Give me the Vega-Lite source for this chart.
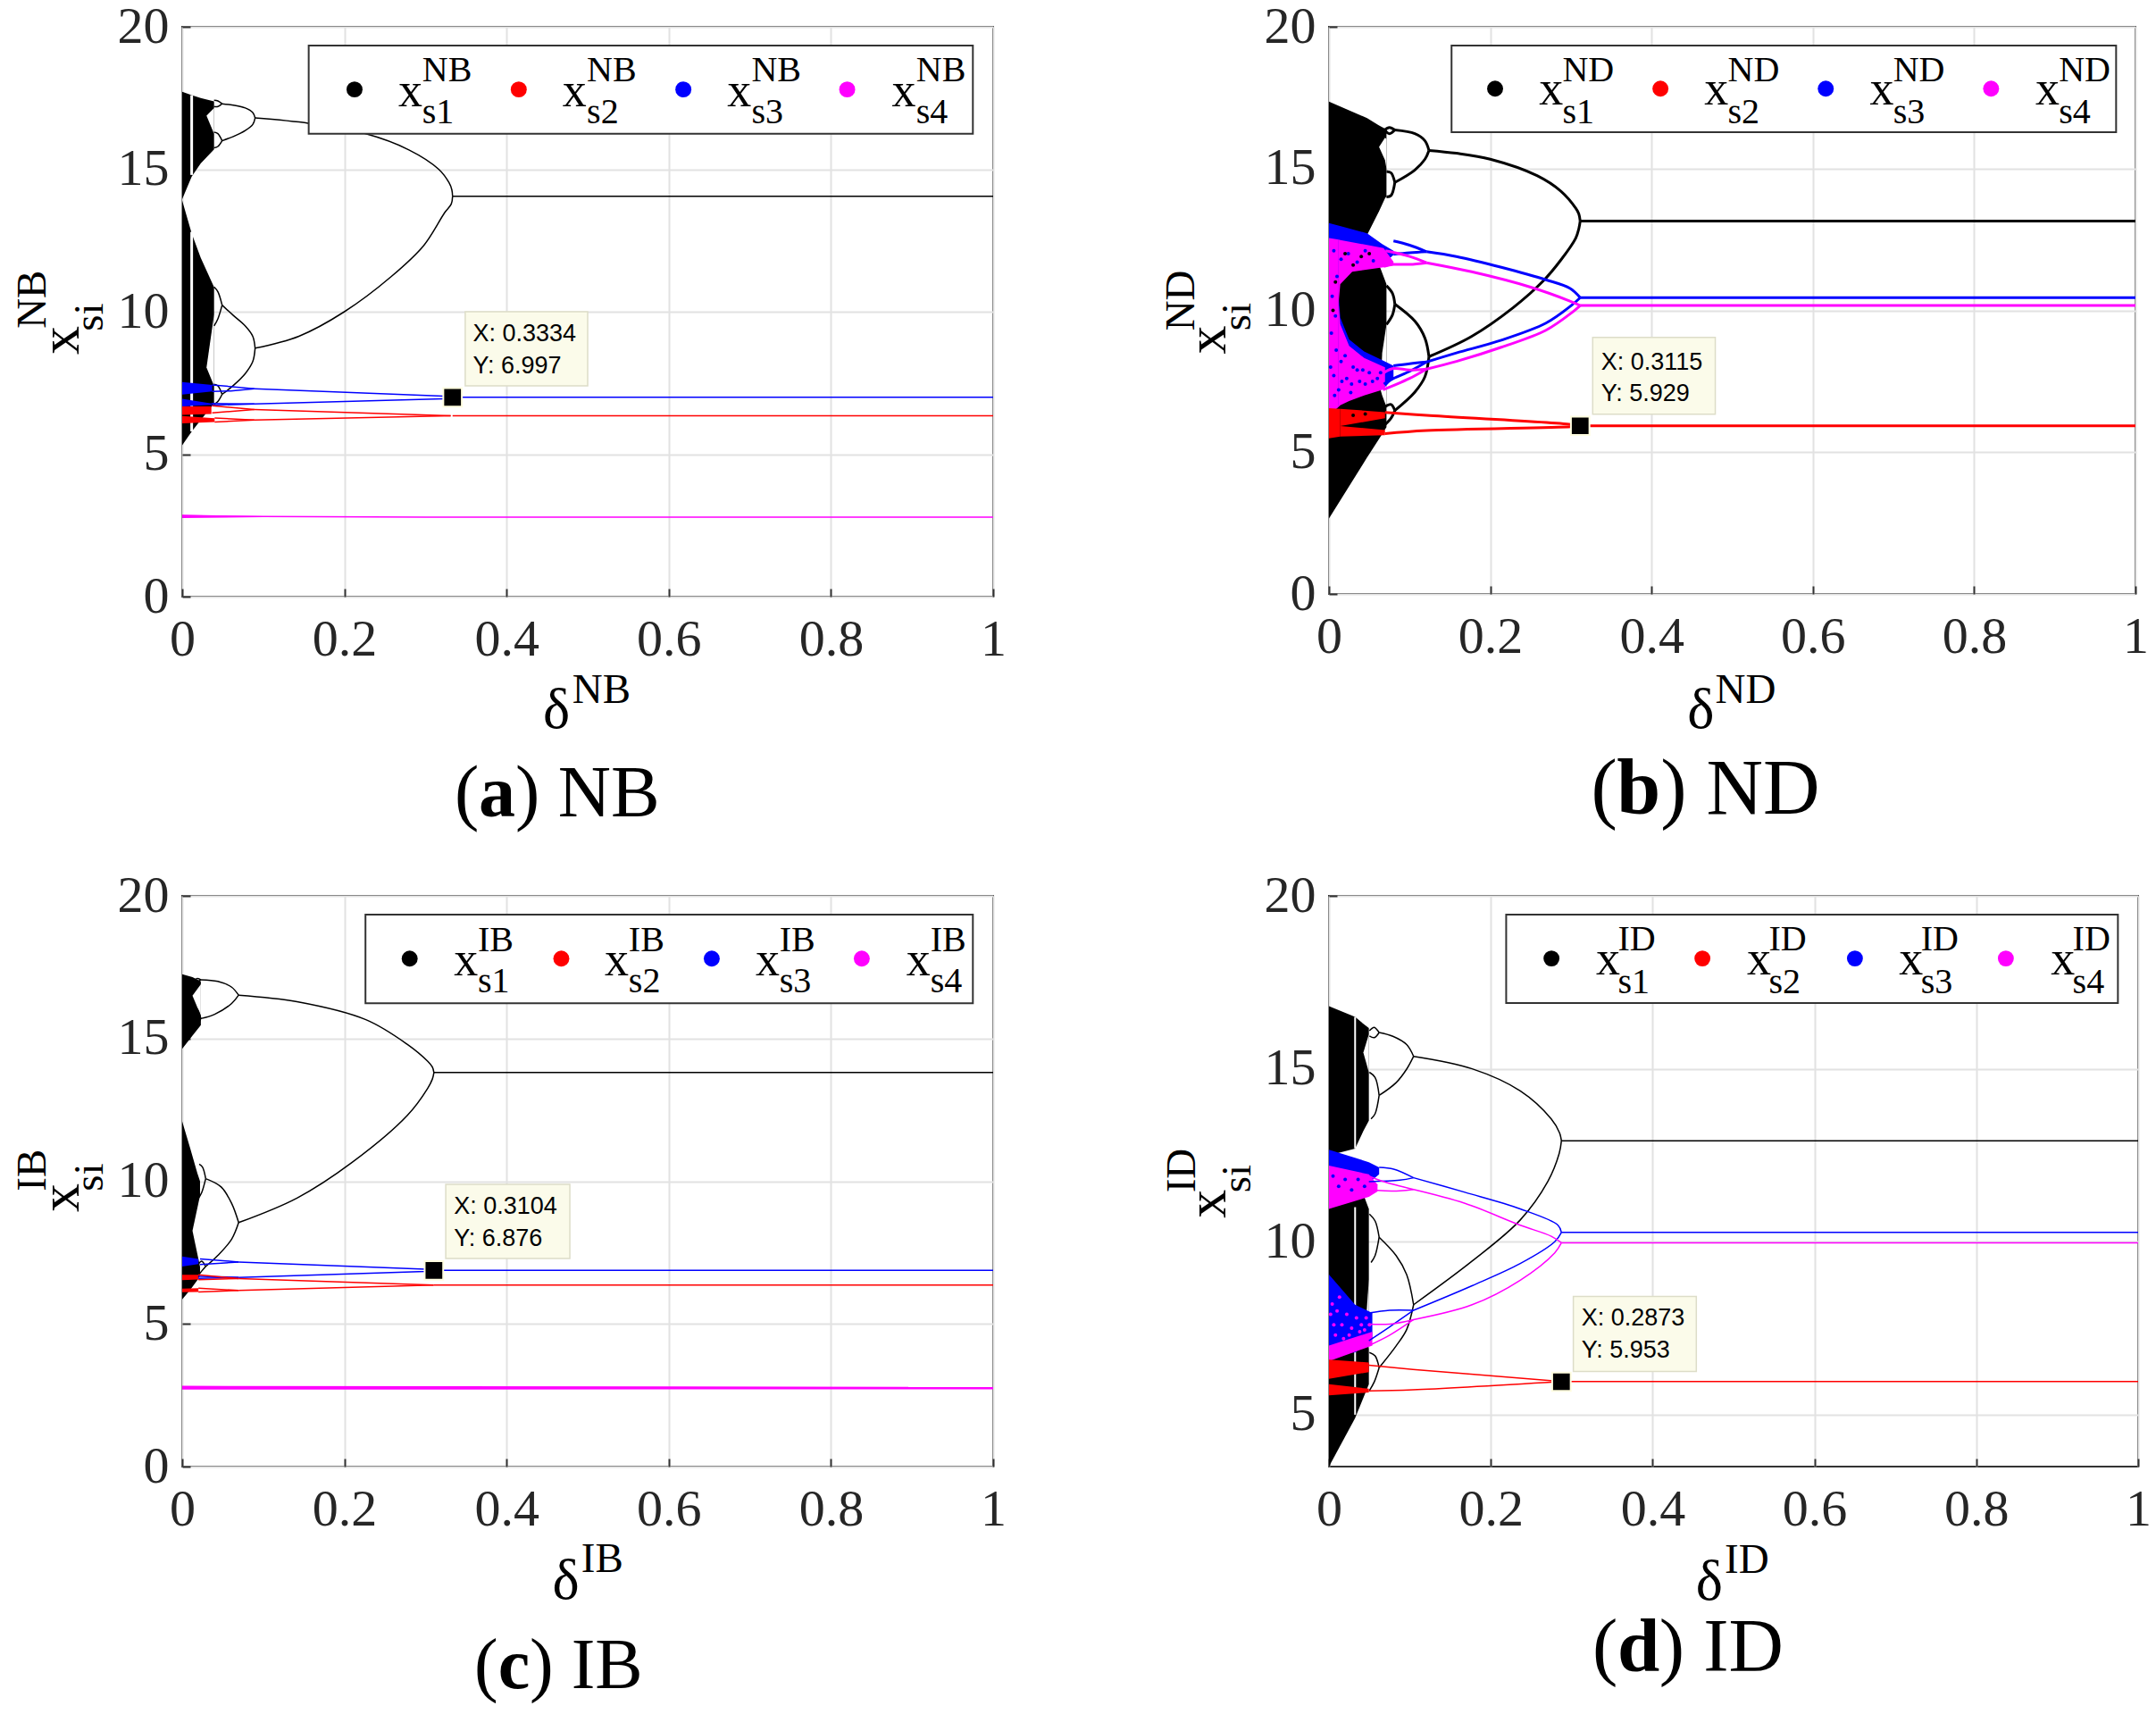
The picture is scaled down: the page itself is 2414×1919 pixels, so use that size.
{"$schema":"https://vega.github.io/schema/vega-lite/v6.json","background":"white","padding":{"left":11,"top":0,"right":0,"bottom":0},"bounds":"flush","columns":2,"spacing":{"row":335,"column":376},
"config":{"view":{"stroke":"#333","strokeWidth":2},"axis":{"labelFont":"Liberation Serif","labelFontSize":58,"labelColor":"#262626","gridColor":"#e2e2e2","gridWidth":2,"tickColor":"#333","tickWidth":2,"tickSize":-9,"domain":false,"labelOverlap":false,"labelFlush":false},"axisX":{"labelPadding":28},"axisY":{"labelPadding":24},
"style":{"big":{"font":"Liberation Serif","fontSize":64,"align":"center","baseline":"middle","fill":"#262626"},"sup":{"font":"Liberation Serif","fontSize":47,"align":"left","baseline":"middle","fill":"#262626"},"rbig":{"font":"Liberation Serif","fontSize":64,"align":"center","baseline":"middle","angle":270,"fill":"#262626"},"rsup":{"font":"Liberation Serif","fontSize":47,"align":"left","baseline":"middle","angle":270,"fill":"#262626"},"lx":{"font":"Liberation Serif","fontSize":54,"align":"left","baseline":"middle","fill":"#000"},"ls":{"font":"Liberation Serif","fontSize":40,"align":"left","baseline":"middle","fill":"#000"},"tip":{"font":"Liberation Sans","fontSize":27,"align":"left","baseline":"middle","fill":"#262626"},"tn":{"font":"Liberation Serif","align":"left","baseline":"middle","fill":"#000"},"tb":{"font":"Liberation Serif","fontWeight":"bold","align":"left","baseline":"middle","fill":"#000"}}},
"datasets":{
"a_b":[{"s":"s1","r":"U","x":0,"y":17.72,"y2":13.95},{"s":"s1","r":"U","x":0.0117,"y":17.6,"y2":14.74},{"s":"s1","r":"U","x":0.0228,"y":17.5,"y2":15.2},{"s":"s1","r":"U","x":0.0393,"y":17.38,"y2":15.7},{"s":"s1","r":"L","x":0,"y":13.9,"y2":5.31},{"s":"s1","r":"L","x":0.0117,"y":12.75,"y2":5.79},{"s":"s1","r":"L","x":0.0228,"y":11.9,"y2":6.2},{"s":"s1","r":"L","x":0.0393,"y":10.86,"y2":6.78},{"s":"w","r":"W1","x":0.03,"y":16.88,"y2":16.88},{"s":"w","r":"W1","x":0.0393,"y":17.15,"y2":16.25},{"s":"w","r":"W2","x":0.03,"y":8.04,"y2":8.04},{"s":"w","r":"W2","x":0.0393,"y":9.9,"y2":7.4},
{"s":"s3","r":"B1","x":0,"y":7.53,"y2":7.09},{"s":"s3","r":"B1","x":0.037,"y":7.43,"y2":7.2},{"s":"s3","r":"B2","x":0,"y":6.94,"y2":6.68},{"s":"s3","r":"B2","x":0.036,"y":6.78,"y2":6.73},{"s":"s2","r":"R1","x":0,"y":6.68,"y2":6.38},{"s":"s2","r":"R1","x":0.036,"y":6.68,"y2":6.41},{"s":"s2","r":"R2","x":0,"y":6.34,"y2":6.08},{"s":"s2","r":"R2","x":0.04,"y":6.26,"y2":6.13},{"s":"s4","r":"M","x":0,"y":2.88,"y2":2.76},{"s":"s4","r":"M","x":0.1,"y":2.82,"y2":2.79}],
"a_r":[{"x":0.0117,"y":17.6,"y2":14.8},{"x":0.0117,"y":12.8,"y2":5.8}],
"a_l":[{"s":"s1","b":"p","x":0.3334,"y":14.05},{"s":"s1","b":"p","x":1,"y":14.05},
{"s":"s1","b":"u","x":0.0899,"y":16.8},{"s":"s1","b":"u","x":0.1567,"y":16.61},{"s":"s1","b":"u","x":0.2246,"y":16.26},{"s":"s1","b":"u","x":0.2796,"y":15.68},{"s":"s1","b":"u","x":0.3163,"y":15.0},{"s":"s1","b":"u","x":0.329,"y":14.53},{"s":"s1","b":"u","x":0.3325,"y":14.28},{"s":"s1","b":"u","x":0.3334,"y":14.05},
{"s":"s1","b":"l","x":0.0899,"y":8.72},{"s":"s1","b":"l","x":0.1439,"y":9.14},{"s":"s1","b":"l","x":0.2,"y":10},{"s":"s1","b":"l","x":0.2576,"y":11.23},{"s":"s1","b":"l","x":0.298,"y":12.33},{"s":"s1","b":"l","x":0.3237,"y":13.48},{"s":"s1","b":"l","x":0.3318,"y":13.78},{"s":"s1","b":"l","x":0.3334,"y":14.05},
{"s":"s1","b":"uu","x":0.0492,"y":17.3},{"s":"s1","b":"uu","x":0.063,"y":17.25},{"s":"s1","b":"uu","x":0.0778,"y":17.15},{"s":"s1","b":"uu","x":0.087,"y":16.99},{"s":"s1","b":"uu","x":0.0899,"y":16.8},
{"s":"s1","b":"ul","x":0.0492,"y":16.0},{"s":"s1","b":"ul","x":0.063,"y":16.15},{"s":"s1","b":"ul","x":0.0778,"y":16.36},{"s":"s1","b":"ul","x":0.087,"y":16.57},{"s":"s1","b":"ul","x":0.0899,"y":16.8},
{"s":"s1","b":"lu","x":0.0492,"y":10.23},{"s":"s1","b":"lu","x":0.063,"y":9.87},{"s":"s1","b":"lu","x":0.0778,"y":9.5},{"s":"s1","b":"lu","x":0.087,"y":9.14},{"s":"s1","b":"lu","x":0.0899,"y":8.72},
{"s":"s1","b":"ll","x":0.0492,"y":7.1},{"s":"s1","b":"ll","x":0.063,"y":7.41},{"s":"s1","b":"ll","x":0.0778,"y":7.83},{"s":"s1","b":"ll","x":0.087,"y":8.25},{"s":"s1","b":"ll","x":0.0899,"y":8.72},
{"s":"s1","b":"a1","x":0.0393,"y":17.42},{"s":"s1","b":"a1","x":0.044,"y":17.4},{"s":"s1","b":"a1","x":0.0492,"y":17.3},{"s":"s1","b":"a2","x":0.0393,"y":17.2},{"s":"s1","b":"a2","x":0.044,"y":17.2},{"s":"s1","b":"a2","x":0.0492,"y":17.3},
{"s":"s1","b":"b1","x":0.0393,"y":16.3},{"s":"s1","b":"b1","x":0.044,"y":16.25},{"s":"s1","b":"b1","x":0.0492,"y":16.0},{"s":"s1","b":"b2","x":0.0393,"y":15.75},{"s":"s1","b":"b2","x":0.044,"y":15.8},{"s":"s1","b":"b2","x":0.0492,"y":16.0},
{"s":"s1","b":"c1","x":0.0393,"y":10.87},{"s":"s1","b":"c1","x":0.044,"y":10.7},{"s":"s1","b":"c1","x":0.0492,"y":10.23},{"s":"s1","b":"c2","x":0.0393,"y":9.5},{"s":"s1","b":"c2","x":0.044,"y":9.75},{"s":"s1","b":"c2","x":0.0492,"y":10.23},
{"s":"s1","b":"d1","x":0.0393,"y":7.45},{"s":"s1","b":"d1","x":0.044,"y":7.4},{"s":"s1","b":"d1","x":0.0492,"y":7.1},{"s":"s1","b":"d2","x":0.0393,"y":6.75},{"s":"s1","b":"d2","x":0.044,"y":6.85},{"s":"s1","b":"d2","x":0.0492,"y":7.1},
{"s":"s3","b":"p","x":0.3334,"y":7.0},{"s":"s3","b":"p","x":1,"y":7.0},{"s":"s3","b":"u","x":0.089,"y":7.3},{"s":"s3","b":"u","x":0.322,"y":7.04},{"s":"s3","b":"u","x":0.3334,"y":7.0},{"s":"s3","b":"l","x":0.089,"y":6.76},{"s":"s3","b":"l","x":0.322,"y":6.94},{"s":"s3","b":"l","x":0.3334,"y":7.0},{"s":"s3","b":"uu","x":0.037,"y":7.43},{"s":"s3","b":"uu","x":0.089,"y":7.3},{"s":"s3","b":"ul","x":0.037,"y":7.2},{"s":"s3","b":"ul","x":0.06,"y":7.22},{"s":"s3","b":"ul","x":0.089,"y":7.3},{"s":"s3","b":"lu","x":0.036,"y":6.78},{"s":"s3","b":"lu","x":0.089,"y":6.76},{"s":"s3","b":"ll","x":0.036,"y":6.72},{"s":"s3","b":"ll","x":0.089,"y":6.76},
{"s":"s2","b":"p","x":0.3334,"y":6.35},{"s":"s2","b":"p","x":1,"y":6.35},{"s":"s2","b":"u","x":0.089,"y":6.57},{"s":"s2","b":"u","x":0.331,"y":6.35},{"s":"s2","b":"l","x":0.089,"y":6.2},{"s":"s2","b":"l","x":0.331,"y":6.35},{"s":"s2","b":"uu","x":0.037,"y":6.7},{"s":"s2","b":"uu","x":0.089,"y":6.57},{"s":"s2","b":"ul","x":0.037,"y":6.45},{"s":"s2","b":"ul","x":0.089,"y":6.57},{"s":"s2","b":"lu","x":0.04,"y":6.27},{"s":"s2","b":"lu","x":0.089,"y":6.2},{"s":"s2","b":"ll","x":0.04,"y":6.13},{"s":"s2","b":"ll","x":0.089,"y":6.2},
{"s":"s4","b":"p","x":0,"y":2.84},{"s":"s4","b":"p","x":0.1,"y":2.81},{"s":"s4","b":"p","x":0.3,"y":2.79},{"s":"s4","b":"p","x":1,"y":2.79}],
"a_t":[{"r":"big","t":"δ","x":0.4615,"y":-4.0},{"r":"sup","t":"NB","x":0.481,"y":-3.29},{"r":"rbig","t":"x","x":-0.1487,"y":9.0},{"r":"rsup","t":"NB","x":-0.184,"y":9.41},{"r":"rsup","t":"si","x":-0.1134,"y":9.32},{"r":"tip","t":"X: 0.3334","x":0.3585,"y":9.22},{"r":"tip","t":"Y: 6.997","x":0.3585,"y":8.1},
{"r":"lx","t":"x","x":0.2665,"y":17.7},{"r":"lx","t":"x","x":0.469,"y":17.7},{"r":"lx","t":"x","x":0.672,"y":17.7},{"r":"lx","t":"x","x":0.875,"y":17.7},
{"r":"ls","t":"NB","x":0.296,"y":18.45},{"r":"ls","t":"NB","x":0.499,"y":18.45},{"r":"ls","t":"NB","x":0.702,"y":18.45},{"r":"ls","t":"NB","x":0.905,"y":18.45},{"r":"ls","t":"s1","x":0.296,"y":17.0},{"r":"ls","t":"s2","x":0.499,"y":17.0},{"r":"ls","t":"s3","x":0.702,"y":17.0},{"r":"ls","t":"s4","x":0.905,"y":17.0},
{"r":"tn","t":"(","x":0.336,"y":-6.93},{"r":"tb","t":"a","x":0.3656,"y":-6.93},{"r":"tn","t":") NB","x":0.4108,"y":-6.93}],
"a_p":[{"s":"s1","x":0.2125,"y":17.8},{"s":"s2","x":0.415,"y":17.8},{"s":"s3","x":0.618,"y":17.8},{"s":"s4","x":0.82,"y":17.8}],

"b_b":[{"s":"s1","r":"U","x":0,"y":17.36,"y2":12.5},{"s":"s1","r":"U","x":0.0473,"y":16.78,"y2":12.66},{"s":"s1","r":"U","x":0.0621,"y":16.52,"y2":13.5},{"s":"s1","r":"U","x":0.0695,"y":16.41,"y2":13.95},{"s":"s1","r":"U","x":0.0713,"y":16.38,"y2":14.02},{"s":"s1","r":"L","x":0,"y":12.5,"y2":2.66},{"s":"s1","r":"L","x":0.047,"y":12.6,"y2":4.8},{"s":"s1","r":"L","x":0.064,"y":11.47,"y2":5.55},{"s":"s1","r":"L","x":0.0713,"y":10.92,"y2":5.88},
{"s":"w","r":"W1","x":0.0621,"y":15.76,"y2":15.76},{"s":"w","r":"W1","x":0.0695,"y":16.09,"y2":15.3},{"s":"w","r":"W1","x":0.0713,"y":16.05,"y2":15.0},{"s":"w","r":"W2","x":0.064,"y":7.2,"y2":7.2},{"s":"w","r":"W2","x":0.066,"y":8.5,"y2":7.0},{"s":"w","r":"W2","x":0.0713,"y":9.5,"y2":6.6},
{"s":"s3","r":"BU","x":0,"y":13.08,"y2":11.4},{"s":"s3","r":"BU","x":0.0473,"y":12.72,"y2":11.5},{"s":"s3","r":"BU","x":0.066,"y":12.34,"y2":11.6},{"s":"s3","r":"BU","x":0.08,"y":12.1,"y2":11.95},{"s":"s3","r":"bc","x":0,"y":12.6,"y2":6.4},{"s":"s3","r":"bc","x":0.012,"y":12.5,"y2":6.6},{"s":"s3","r":"bl","x":0.012,"y":10.5,"y2":6.7},{"s":"s3","r":"bl","x":0.014,"y":9.75,"y2":6.7},{"s":"s3","r":"bl","x":0.025,"y":8.98,"y2":6.85},{"s":"s3","r":"bl","x":0.0436,"y":8.55,"y2":7.05},{"s":"s3","r":"bl","x":0.0695,"y":8.2,"y2":7.3},{"s":"s3","r":"bl","x":0.08,"y":8.05,"y2":7.6},
{"s":"s4","r":"mc","x":0,"y":12.55,"y2":6.3},{"s":"s4","r":"mc","x":0.012,"y":12.5,"y2":6.6},{"s":"s4","r":"mu","x":0.012,"y":12.5,"y2":10.27},{"s":"s4","r":"mu","x":0.014,"y":12.48,"y2":10.92},{"s":"s4","r":"mu","x":0.0288,"y":12.4,"y2":11.36},{"s":"s4","r":"mu","x":0.0677,"y":12.2,"y2":11.52},{"s":"s4","r":"mu","x":0.08,"y":11.72,"y2":11.6},{"s":"s4","r":"ml","x":0.012,"y":10.27,"y2":6.6},{"s":"s4","r":"ml","x":0.014,"y":9.51,"y2":6.65},{"s":"s4","r":"ml","x":0.025,"y":8.75,"y2":6.8},{"s":"s4","r":"ml","x":0.0436,"y":8.32,"y2":7.0},{"s":"s4","r":"ml","x":0.0695,"y":7.99,"y2":7.23},
{"s":"s2","r":"rc","x":0,"y":6.55,"y2":5.49},{"s":"s2","r":"rc","x":0.014,"y":6.53,"y2":5.55},{"s":"s2","r":"ru","x":0.014,"y":6.53,"y2":5.92},{"s":"s2","r":"ru","x":0.0695,"y":6.41,"y2":6.2},{"s":"s2","r":"rl","x":0.014,"y":5.92,"y2":5.55},{"s":"s2","r":"rl","x":0.0695,"y":5.78,"y2":5.6}],
"b_d":[{"s":"s3","x":0.006,"y":12.1},{"s":"s3","x":0.015,"y":11.8},{"s":"s3","x":0.024,"y":12.0},{"s":"s3","x":0.035,"y":11.7},{"s":"s3","x":0.045,"y":12.1},{"s":"s3","x":0.055,"y":11.75},{"s":"s3","x":0.01,"y":11.2},{"s":"s3","x":0.004,"y":10.5},{"s":"s3","x":0.008,"y":9.8},{"s":"s3","x":0.003,"y":9.2},{"s":"s3","x":0.009,"y":8.6},{"s":"s3","x":0.015,"y":8.2},{"s":"s3","x":0.006,"y":7.7},{"s":"s3","x":0.022,"y":7.6},{"s":"s3","x":0.03,"y":8.0},{"s":"s3","x":0.038,"y":7.5},{"s":"s3","x":0.05,"y":7.8},{"s":"s3","x":0.06,"y":7.6},{"s":"s3","x":0.012,"y":7.2},{"s":"s3","x":0.027,"y":7.1},{"s":"s3","x":0.02,"y":8.4},{"s":"s3","x":0.035,"y":7.9},{"s":"s3","x":0.045,"y":7.4},{"s":"s3","x":0.007,"y":7.0},{"s":"s3","x":0.002,"y":8.0},{"s":"s3","x":0.016,"y":7.5},{"s":"s3","x":0.028,"y":7.4},{"s":"s3","x":0.042,"y":7.9},{"s":"s3","x":0.054,"y":7.5},{"s":"s3","x":0.064,"y":7.8},{"s":"s1","x":0.02,"y":12.0},{"s":"s1","x":0.04,"y":11.9},{"s":"s1","x":0.005,"y":10.0},{"s":"s1","x":0.008,"y":11.0},{"s":"s1","x":0.03,"y":11.6},{"s":"s1","x":0.05,"y":12.0},{"s":"s1","x":0.03,"y":6.3},{"s":"s1","x":0.045,"y":6.35}],
"b_l":[{"s":"s1","b":"p","x":0.3115,"y":13.15},{"s":"s1","b":"p","x":1,"y":13.15},
{"s":"s1","b":"u","x":0.124,"y":15.64},{"s":"s1","b":"u","x":0.158,"y":15.54},{"s":"s1","b":"u","x":0.2,"y":15.33},{"s":"s1","b":"u","x":0.258,"y":14.75},{"s":"s1","b":"u","x":0.2876,"y":14.2},{"s":"s1","b":"u","x":0.306,"y":13.6},{"s":"s1","b":"u","x":0.3098,"y":13.4},{"s":"s1","b":"u","x":0.3115,"y":13.15},
{"s":"s1","b":"l","x":0.124,"y":8.37},{"s":"s1","b":"l","x":0.1767,"y":9.08},{"s":"s1","b":"l","x":0.2285,"y":10.1},{"s":"s1","b":"l","x":0.2654,"y":11.03},{"s":"s1","b":"l","x":0.2876,"y":11.78},{"s":"s1","b":"l","x":0.306,"y":12.55},{"s":"s1","b":"l","x":0.3098,"y":12.88},{"s":"s1","b":"l","x":0.3115,"y":13.15},
{"s":"s1","b":"uu","x":0.0817,"y":16.36},{"s":"s1","b":"uu","x":0.1065,"y":16.23},{"s":"s1","b":"uu","x":0.119,"y":15.98},{"s":"s1","b":"uu","x":0.124,"y":15.64},
{"s":"s1","b":"ul","x":0.0817,"y":14.51},{"s":"s1","b":"ul","x":0.1065,"y":14.95},{"s":"s1","b":"ul","x":0.119,"y":15.33},{"s":"s1","b":"ul","x":0.124,"y":15.64},
{"s":"s1","b":"lu","x":0.0817,"y":10.22},{"s":"s1","b":"lu","x":0.1065,"y":9.62},{"s":"s1","b":"lu","x":0.119,"y":9.02},{"s":"s1","b":"lu","x":0.124,"y":8.37},
{"s":"s1","b":"ll","x":0.0817,"y":6.47},{"s":"s1","b":"ll","x":0.1065,"y":7.12},{"s":"s1","b":"ll","x":0.119,"y":7.66},{"s":"s1","b":"ll","x":0.124,"y":8.37},
{"s":"s1","b":"a1","x":0.0688,"y":16.36},{"s":"s1","b":"a1","x":0.075,"y":16.45},{"s":"s1","b":"a1","x":0.0817,"y":16.36},{"s":"s1","b":"a2","x":0.0688,"y":16.36},{"s":"s1","b":"a2","x":0.075,"y":16.23},{"s":"s1","b":"a2","x":0.0817,"y":16.36},
{"s":"s1","b":"b1","x":0.0713,"y":14.9},{"s":"s1","b":"b1","x":0.077,"y":14.85},{"s":"s1","b":"b1","x":0.0817,"y":14.51},{"s":"s1","b":"b2","x":0.0713,"y":14.0},{"s":"s1","b":"b2","x":0.077,"y":14.05},{"s":"s1","b":"b2","x":0.0817,"y":14.51},
{"s":"s1","b":"c1","x":0.0713,"y":10.87},{"s":"s1","b":"c1","x":0.0787,"y":10.6},{"s":"s1","b":"c1","x":0.0817,"y":10.22},{"s":"s1","b":"c2","x":0.0713,"y":9.5},{"s":"s1","b":"c2","x":0.0787,"y":9.84},{"s":"s1","b":"c2","x":0.0817,"y":10.22},
{"s":"s1","b":"d1","x":0.0695,"y":6.6},{"s":"s1","b":"d1","x":0.077,"y":6.68},{"s":"s1","b":"d1","x":0.0817,"y":6.47},{"s":"s1","b":"d2","x":0.0695,"y":5.97},{"s":"s1","b":"d2","x":0.077,"y":6.2},{"s":"s1","b":"d2","x":0.0817,"y":6.47},
{"s":"s3","b":"p","x":0.3115,"y":10.45},{"s":"s3","b":"p","x":1,"y":10.45},
{"s":"s3","b":"u","x":0.121,"y":12.07},{"s":"s3","b":"u","x":0.158,"y":11.9},{"s":"s3","b":"u","x":0.2137,"y":11.52},{"s":"s3","b":"u","x":0.269,"y":11.08},{"s":"s3","b":"u","x":0.2987,"y":10.78},{"s":"s3","b":"u","x":0.3115,"y":10.45},
{"s":"s3","b":"l","x":0.121,"y":8.18},{"s":"s3","b":"l","x":0.158,"y":8.5},{"s":"s3","b":"l","x":0.2137,"y":8.95},{"s":"s3","b":"l","x":0.269,"y":9.55},{"s":"s3","b":"l","x":0.3,"y":10.16},{"s":"s3","b":"l","x":0.3115,"y":10.45},
{"s":"s3","b":"uu","x":0.08,"y":12.45},{"s":"s3","b":"uu","x":0.1,"y":12.3},{"s":"s3","b":"uu","x":0.121,"y":12.07},{"s":"s3","b":"ul","x":0.08,"y":11.98},{"s":"s3","b":"ul","x":0.1,"y":12.03},{"s":"s3","b":"ul","x":0.121,"y":12.07},
{"s":"s3","b":"lu","x":0.08,"y":8.05},{"s":"s3","b":"lu","x":0.1,"y":8.12},{"s":"s3","b":"lu","x":0.121,"y":8.18},{"s":"s3","b":"ll","x":0.068,"y":7.4},{"s":"s3","b":"ll","x":0.08,"y":7.6},{"s":"s3","b":"ll","x":0.1,"y":7.85},{"s":"s3","b":"ll","x":0.121,"y":8.18},
{"s":"s4","b":"p","x":0.3115,"y":10.17},{"s":"s4","b":"p","x":1,"y":10.17},
{"s":"s4","b":"u","x":0.121,"y":11.68},{"s":"s4","b":"u","x":0.177,"y":11.36},{"s":"s4","b":"u","x":0.25,"y":10.82},{"s":"s4","b":"u","x":0.2987,"y":10.33},{"s":"s4","b":"u","x":0.3115,"y":10.17},
{"s":"s4","b":"l","x":0.121,"y":7.93},{"s":"s4","b":"l","x":0.158,"y":8.2},{"s":"s4","b":"l","x":0.2137,"y":8.7},{"s":"s4","b":"l","x":0.269,"y":9.3},{"s":"s4","b":"l","x":0.3024,"y":9.95},{"s":"s4","b":"l","x":0.3115,"y":10.17},
{"s":"s4","b":"uu","x":0.07,"y":12.1},{"s":"s4","b":"uu","x":0.1,"y":11.9},{"s":"s4","b":"uu","x":0.121,"y":11.68},{"s":"s4","b":"ul","x":0.068,"y":11.55},{"s":"s4","b":"ul","x":0.08,"y":11.62},{"s":"s4","b":"ul","x":0.1,"y":11.62},{"s":"s4","b":"ul","x":0.121,"y":11.68},
{"s":"s4","b":"lu","x":0.068,"y":7.8},{"s":"s4","b":"lu","x":0.08,"y":7.95},{"s":"s4","b":"lu","x":0.1,"y":7.9},{"s":"s4","b":"lu","x":0.121,"y":7.93},{"s":"s4","b":"ll","x":0.067,"y":7.2},{"s":"s4","b":"ll","x":0.08,"y":7.35},{"s":"s4","b":"ll","x":0.1,"y":7.6},{"s":"s4","b":"ll","x":0.121,"y":7.93},
{"s":"s2","b":"p","x":0.3115,"y":5.93},{"s":"s2","b":"p","x":1,"y":5.93},{"s":"s2","b":"u","x":0.0695,"y":6.4},{"s":"s2","b":"u","x":0.121,"y":6.3},{"s":"s2","b":"u","x":0.3,"y":5.98},{"s":"s2","b":"u","x":0.3115,"y":5.93},{"s":"s2","b":"l","x":0.0695,"y":5.65},{"s":"s2","b":"l","x":0.121,"y":5.76},{"s":"s2","b":"l","x":0.3,"y":5.9},{"s":"s2","b":"l","x":0.3115,"y":5.93}],
"b_t":[{"r":"big","t":"δ","x":0.461,"y":-4.12},{"r":"sup","t":"ND","x":0.479,"y":-3.39},{"r":"rbig","t":"x","x":-0.15,"y":8.96},{"r":"rsup","t":"ND","x":-0.183,"y":9.28},{"r":"rsup","t":"si","x":-0.113,"y":9.28},{"r":"tip","t":"X: 0.3115","x":0.3375,"y":8.17},{"r":"tip","t":"Y: 5.929","x":0.3375,"y":7.05},
{"r":"lx","t":"x","x":0.2605,"y":17.75},{"r":"lx","t":"x","x":0.4655,"y":17.75},{"r":"lx","t":"x","x":0.6705,"y":17.75},{"r":"lx","t":"x","x":0.876,"y":17.75},
{"r":"ls","t":"ND","x":0.2895,"y":18.47},{"r":"ls","t":"ND","x":0.4945,"y":18.47},{"r":"ls","t":"ND","x":0.6995,"y":18.47},{"r":"ls","t":"ND","x":0.905,"y":18.47},{"r":"ls","t":"s1","x":0.2895,"y":16.97},{"r":"ls","t":"s2","x":0.4945,"y":16.97},{"r":"ls","t":"s3","x":0.6995,"y":16.97},{"r":"ls","t":"s4","x":0.905,"y":16.97},
{"r":"tn","t":"(","x":0.325,"y":-6.92},{"r":"tb","t":"b","x":0.357,"y":-6.92},{"r":"tn","t":") ND","x":0.411,"y":-6.92}],
"b_p":[{"s":"s1","x":0.206,"y":17.82},{"s":"s2","x":0.411,"y":17.82},{"s":"s3","x":0.616,"y":17.82},{"s":"s4","x":0.821,"y":17.82}],

"c_b":[{"s":"s1","r":"U","x":0,"y":17.25,"y2":14.64},{"s":"s1","r":"U","x":0.0127,"y":17.15,"y2":15.1},{"s":"s1","r":"U","x":0.023,"y":17.0,"y2":15.47},{"s":"s1","r":"L","x":0,"y":12.1,"y2":5.86},{"s":"s1","r":"L","x":0.01,"y":11.14,"y2":6.2},{"s":"s1","r":"L","x":0.0187,"y":10.28,"y2":6.53},{"s":"s1","r":"L","x":0.022,"y":10.0,"y2":6.7},{"s":"w","r":"W1","x":0.0127,"y":16.5,"y2":16.5},{"s":"w","r":"W1","x":0.023,"y":16.9,"y2":15.8},{"s":"w","r":"W2","x":0.0127,"y":8.26,"y2":8.26},{"s":"w","r":"W2","x":0.022,"y":9.5,"y2":7.0},
{"s":"s3","r":"B1","x":0,"y":7.36,"y2":7.01},{"s":"s3","r":"B1","x":0.02,"y":7.28,"y2":7.1},{"s":"s2","r":"R1","x":0,"y":6.72,"y2":6.53},{"s":"s2","r":"R1","x":0.02,"y":6.72,"y2":6.56},{"s":"s2","r":"R2","x":0,"y":6.24,"y2":6.11},{"s":"s2","r":"R2","x":0.02,"y":6.25,"y2":6.12},{"s":"s4","r":"M","x":0,"y":2.83,"y2":2.7},{"s":"s4","r":"M","x":1,"y":2.79,"y2":2.71}],
"c_l":[{"s":"s1","b":"p","x":0.3104,"y":13.81},{"s":"s1","b":"p","x":1,"y":13.81},
{"s":"s1","b":"u","x":0.0696,"y":16.52},{"s":"s1","b":"u","x":0.1416,"y":16.29},{"s":"s1","b":"u","x":0.2265,"y":15.66},{"s":"s1","b":"u","x":0.2774,"y":14.8},{"s":"s1","b":"u","x":0.3028,"y":14.2},{"s":"s1","b":"u","x":0.3085,"y":14.0},{"s":"s1","b":"u","x":0.3104,"y":13.81},
{"s":"s1","b":"l","x":0.0696,"y":8.55},{"s":"s1","b":"l","x":0.1416,"y":9.41},{"s":"s1","b":"l","x":0.2095,"y":10.66},{"s":"s1","b":"l","x":0.2774,"y":12.3},{"s":"s1","b":"l","x":0.3028,"y":13.26},{"s":"s1","b":"l","x":0.3085,"y":13.58},{"s":"s1","b":"l","x":0.3104,"y":13.81},
{"s":"s1","b":"uu","x":0.023,"y":17.06},{"s":"s1","b":"uu","x":0.044,"y":17.0},{"s":"s1","b":"uu","x":0.061,"y":16.8},{"s":"s1","b":"uu","x":0.0696,"y":16.52},
{"s":"s1","b":"ul","x":0.023,"y":15.7},{"s":"s1","b":"ul","x":0.04,"y":15.85},{"s":"s1","b":"ul","x":0.061,"y":16.23},{"s":"s1","b":"ul","x":0.0696,"y":16.52},
{"s":"s1","b":"lu","x":0.029,"y":10.09},{"s":"s1","b":"lu","x":0.048,"y":9.8},{"s":"s1","b":"lu","x":0.061,"y":9.22},{"s":"s1","b":"lu","x":0.0696,"y":8.55},
{"s":"s1","b":"ll","x":0.029,"y":7.01},{"s":"s1","b":"ll","x":0.044,"y":7.4},{"s":"s1","b":"ll","x":0.061,"y":7.97},{"s":"s1","b":"ll","x":0.0696,"y":8.55},
{"s":"s1","b":"a1","x":0.013,"y":17.0},{"s":"s1","b":"a1","x":0.018,"y":17.1},{"s":"s1","b":"a1","x":0.023,"y":17.06},{"s":"s1","b":"a2","x":0.013,"y":17.0},{"s":"s1","b":"a2","x":0.018,"y":16.98},{"s":"s1","b":"a2","x":0.023,"y":17.06},
{"s":"s1","b":"b1","x":0.014,"y":16.0},{"s":"s1","b":"b1","x":0.018,"y":16.05},{"s":"s1","b":"b1","x":0.023,"y":15.7},{"s":"s1","b":"b2","x":0.014,"y":15.35},{"s":"s1","b":"b2","x":0.018,"y":15.45},{"s":"s1","b":"b2","x":0.023,"y":15.7},
{"s":"s1","b":"c1","x":0.021,"y":10.6},{"s":"s1","b":"c1","x":0.025,"y":10.5},{"s":"s1","b":"c1","x":0.029,"y":10.09},{"s":"s1","b":"c2","x":0.02,"y":9.4},{"s":"s1","b":"c2","x":0.024,"y":9.6},{"s":"s1","b":"c2","x":0.029,"y":10.09},
{"s":"s1","b":"d1","x":0.02,"y":7.1},{"s":"s1","b":"d1","x":0.024,"y":7.2},{"s":"s1","b":"d1","x":0.029,"y":7.01},{"s":"s1","b":"d2","x":0.02,"y":6.7},{"s":"s1","b":"d2","x":0.024,"y":6.85},{"s":"s1","b":"d2","x":0.029,"y":7.01},
{"s":"s3","b":"p","x":0.3104,"y":6.88},{"s":"s3","b":"p","x":1,"y":6.88},{"s":"s3","b":"u","x":0.0696,"y":7.17},{"s":"s3","b":"u","x":0.3,"y":6.92},{"s":"s3","b":"u","x":0.3104,"y":6.88},{"s":"s3","b":"l","x":0.0696,"y":6.63},{"s":"s3","b":"l","x":0.3,"y":6.84},{"s":"s3","b":"l","x":0.3104,"y":6.88},{"s":"s3","b":"uu","x":0.022,"y":7.28},{"s":"s3","b":"uu","x":0.0696,"y":7.17},{"s":"s3","b":"ul","x":0.022,"y":7.08},{"s":"s3","b":"ul","x":0.0696,"y":7.17},{"s":"s3","b":"lu","x":0.02,"y":6.67},{"s":"s3","b":"lu","x":0.0696,"y":6.63},{"s":"s3","b":"ll","x":0.02,"y":6.6},{"s":"s3","b":"ll","x":0.0696,"y":6.63},
{"s":"s2","b":"p","x":0.31,"y":6.36},{"s":"s2","b":"p","x":1,"y":6.36},{"s":"s2","b":"u","x":0.0696,"y":6.59},{"s":"s2","b":"u","x":0.31,"y":6.36},{"s":"s2","b":"l","x":0.0696,"y":6.17},{"s":"s2","b":"l","x":0.31,"y":6.36},{"s":"s2","b":"uu","x":0.02,"y":6.72},{"s":"s2","b":"uu","x":0.0696,"y":6.59},{"s":"s2","b":"ul","x":0.02,"y":6.55},{"s":"s2","b":"ul","x":0.0696,"y":6.59},{"s":"s2","b":"lu","x":0.02,"y":6.25},{"s":"s2","b":"lu","x":0.0696,"y":6.17},{"s":"s2","b":"ll","x":0.02,"y":6.12},{"s":"s2","b":"ll","x":0.0696,"y":6.17}],
"c_t":[{"r":"big","t":"δ","x":0.473,"y":-4.04},{"r":"sup","t":"IB","x":0.492,"y":-3.26},{"r":"rbig","t":"x","x":-0.1487,"y":9.42},{"r":"rsup","t":"IB","x":-0.184,"y":9.65},{"r":"rsup","t":"si","x":-0.1134,"y":9.65},{"r":"tip","t":"X: 0.3104","x":0.335,"y":9.1},{"r":"tip","t":"Y: 6.876","x":0.335,"y":7.98},
{"r":"lx","t":"x","x":0.335,"y":17.72},{"r":"lx","t":"x","x":0.521,"y":17.72},{"r":"lx","t":"x","x":0.707,"y":17.72},{"r":"lx","t":"x","x":0.893,"y":17.72},
{"r":"ls","t":"IB","x":0.3645,"y":18.45},{"r":"ls","t":"IB","x":0.5505,"y":18.45},{"r":"ls","t":"IB","x":0.7365,"y":18.45},{"r":"ls","t":"IB","x":0.9225,"y":18.45},{"r":"ls","t":"s1","x":0.3645,"y":17.0},{"r":"ls","t":"s2","x":0.5505,"y":17.0},{"r":"ls","t":"s3","x":0.7365,"y":17.0},{"r":"ls","t":"s4","x":0.9225,"y":17.0},
{"r":"tn","t":"(","x":0.36,"y":-7.01},{"r":"tb","t":"c","x":0.3895,"y":-7.01},{"r":"tn","t":") IB","x":0.4285,"y":-7.01}],
"c_p":[{"s":"s1","x":0.2805,"y":17.8},{"s":"s2","x":0.4675,"y":17.8},{"s":"s3","x":0.653,"y":17.8},{"s":"s4","x":0.838,"y":17.8}],

"d_b":[{"s":"s1","r":"U","x":0,"y":16.81,"y2":12.5},{"s":"s1","r":"U","x":0.0323,"y":16.5,"y2":12.69},{"s":"s1","r":"U","x":0.0425,"y":16.3,"y2":13.2},{"s":"s1","r":"U","x":0.0493,"y":16.18,"y2":13.5},{"s":"s1","r":"L","x":0,"y":12.5,"y2":3.5},{"s":"s1","r":"L","x":0.0323,"y":12.0,"y2":4.9},{"s":"s1","r":"L","x":0.0493,"y":10.95,"y2":5.88},{"s":"w","r":"W1","x":0.0425,"y":15.47,"y2":15.47},{"s":"w","r":"W1","x":0.0493,"y":16.0,"y2":14.9},{"s":"w","r":"W2","x":0.045,"y":7.46,"y2":7.46},{"s":"w","r":"W2","x":0.0493,"y":8.9,"y2":6.9},
{"s":"s3","r":"B1","x":0,"y":12.66,"y2":11.2},{"s":"s3","r":"B1","x":0.0493,"y":12.3,"y2":11.7},{"s":"s3","r":"B1","x":0.062,"y":12.15,"y2":11.95},{"s":"s4","r":"M1","x":0,"y":12.2,"y2":10.95},{"s":"s4","r":"M1","x":0.0493,"y":11.95,"y2":11.3},{"s":"s4","r":"M1","x":0.06,"y":11.65,"y2":11.45},{"s":"s3","r":"B2","x":0,"y":9.05,"y2":6.8},{"s":"s3","r":"B2","x":0.0323,"y":8.18,"y2":6.8},{"s":"s3","r":"B2","x":0.0536,"y":7.94,"y2":7.2},{"s":"s4","r":"M2","x":0,"y":7.0,"y2":6.55},{"s":"s4","r":"M2","x":0.0536,"y":7.4,"y2":7.0},
{"s":"s2","r":"R1","x":0,"y":6.59,"y2":6.04},{"s":"s2","r":"R1","x":0.0493,"y":6.51,"y2":6.23},{"s":"s2","r":"R2","x":0,"y":5.88,"y2":5.56},{"s":"s2","r":"R2","x":0.0493,"y":5.75,"y2":5.64}],
"d_r":[{"x":0.0323,"y":16.5,"y2":12.7},{"x":0.0323,"y":11.0,"y2":5.0}],
"d_d":[{"s":"s3","x":0.005,"y":11.9},{"s":"s3","x":0.012,"y":11.6},{"s":"s3","x":0.02,"y":11.8},{"s":"s3","x":0.028,"y":11.5},{"s":"s3","x":0.036,"y":11.8},{"s":"s3","x":0.044,"y":11.6},{"s":"s4","x":0.004,"y":8.2},{"s":"s4","x":0.01,"y":8.0},{"s":"s4","x":0.016,"y":7.6},{"s":"s4","x":0.022,"y":7.9},{"s":"s4","x":0.028,"y":7.5},{"s":"s4","x":0.034,"y":7.8},{"s":"s4","x":0.04,"y":7.6},{"s":"s4","x":0.046,"y":7.8},{"s":"s4","x":0.006,"y":7.6},{"s":"s4","x":0.013,"y":8.4},{"s":"s4","x":0.025,"y":7.3},{"s":"s4","x":0.038,"y":7.4},{"s":"s4","x":0.008,"y":7.3},{"s":"s4","x":0.018,"y":7.2},{"s":"s4","x":0.032,"y":7.15},{"s":"s4","x":0.044,"y":7.45},{"s":"s4","x":0.05,"y":7.6},{"s":"s4","x":0.002,"y":7.9}],
"d_l":[{"s":"s1","b":"p","x":0.2873,"y":12.92},{"s":"s1","b":"p","x":1,"y":12.92},
{"s":"s1","b":"u","x":0.1046,"y":15.36},{"s":"s1","b":"u","x":0.1769,"y":15.0},{"s":"s1","b":"u","x":0.2364,"y":14.36},{"s":"s1","b":"u","x":0.2747,"y":13.55},{"s":"s1","b":"u","x":0.2849,"y":13.15},{"s":"s1","b":"u","x":0.2873,"y":12.92},
{"s":"s1","b":"l","x":0.1046,"y":8.18},{"s":"s1","b":"l","x":0.1769,"y":9.44},{"s":"s1","b":"l","x":0.2364,"y":10.63},{"s":"s1","b":"l","x":0.2704,"y":11.74},{"s":"s1","b":"l","x":0.2845,"y":12.55},{"s":"s1","b":"l","x":0.2873,"y":12.92},
{"s":"s1","b":"uu","x":0.062,"y":16.05},{"s":"s1","b":"uu","x":0.079,"y":15.94},{"s":"s1","b":"uu","x":0.096,"y":15.7},{"s":"s1","b":"uu","x":0.1046,"y":15.36},
{"s":"s1","b":"ul","x":0.062,"y":14.23},{"s":"s1","b":"ul","x":0.083,"y":14.6},{"s":"s1","b":"ul","x":0.096,"y":14.99},{"s":"s1","b":"ul","x":0.1046,"y":15.36},
{"s":"s1","b":"lu","x":0.062,"y":10.13},{"s":"s1","b":"lu","x":0.083,"y":9.6},{"s":"s1","b":"lu","x":0.096,"y":9.05},{"s":"s1","b":"lu","x":0.1046,"y":8.18},
{"s":"s1","b":"ll","x":0.062,"y":6.36},{"s":"s1","b":"ll","x":0.083,"y":6.99},{"s":"s1","b":"ll","x":0.096,"y":7.46},{"s":"s1","b":"ll","x":0.1046,"y":8.18},
{"s":"s1","b":"a1","x":0.05,"y":16.1},{"s":"s1","b":"a1","x":0.056,"y":16.2},{"s":"s1","b":"a1","x":0.062,"y":16.05},{"s":"s1","b":"a2","x":0.05,"y":15.95},{"s":"s1","b":"a2","x":0.056,"y":15.9},{"s":"s1","b":"a2","x":0.062,"y":16.05},
{"s":"s1","b":"b1","x":0.05,"y":14.9},{"s":"s1","b":"b1","x":0.057,"y":14.75},{"s":"s1","b":"b1","x":0.062,"y":14.23},{"s":"s1","b":"b2","x":0.052,"y":13.55},{"s":"s1","b":"b2","x":0.057,"y":13.7},{"s":"s1","b":"b2","x":0.062,"y":14.23},
{"s":"s1","b":"c1","x":0.05,"y":10.8},{"s":"s1","b":"c1","x":0.057,"y":10.6},{"s":"s1","b":"c1","x":0.062,"y":10.13},{"s":"s1","b":"c2","x":0.052,"y":9.4},{"s":"s1","b":"c2","x":0.057,"y":9.6},{"s":"s1","b":"c2","x":0.062,"y":10.13},
{"s":"s1","b":"d1","x":0.05,"y":6.8},{"s":"s1","b":"d1","x":0.057,"y":6.7},{"s":"s1","b":"d1","x":0.062,"y":6.36},{"s":"s1","b":"d2","x":0.05,"y":5.7},{"s":"s1","b":"d2","x":0.056,"y":5.95},{"s":"s1","b":"d2","x":0.062,"y":6.36},
{"s":"s3","b":"p","x":0.2873,"y":10.27},{"s":"s3","b":"p","x":1,"y":10.27},
{"s":"s3","b":"u","x":0.1046,"y":11.85},{"s":"s3","b":"u","x":0.168,"y":11.43},{"s":"s3","b":"u","x":0.2364,"y":10.95},{"s":"s3","b":"u","x":0.283,"y":10.48},{"s":"s3","b":"u","x":0.2873,"y":10.27},
{"s":"s3","b":"l","x":0.1046,"y":8.02},{"s":"s3","b":"l","x":0.1769,"y":8.73},{"s":"s3","b":"l","x":0.2364,"y":9.37},{"s":"s3","b":"l","x":0.279,"y":10.0},{"s":"s3","b":"l","x":0.2873,"y":10.27},
{"s":"s3","b":"uu","x":0.062,"y":12.15},{"s":"s3","b":"uu","x":0.08,"y":12.1},{"s":"s3","b":"uu","x":0.1046,"y":11.85},{"s":"s3","b":"ul","x":0.0493,"y":11.74},{"s":"s3","b":"ul","x":0.0876,"y":11.78},{"s":"s3","b":"ul","x":0.1046,"y":11.85},
{"s":"s3","b":"lu","x":0.0493,"y":7.94},{"s":"s3","b":"lu","x":0.075,"y":8.02},{"s":"s3","b":"lu","x":0.1046,"y":8.02},{"s":"s3","b":"ll","x":0.0493,"y":7.14},{"s":"s3","b":"ll","x":0.075,"y":7.54},{"s":"s3","b":"ll","x":0.1046,"y":8.02},
{"s":"s4","b":"p","x":0.2873,"y":9.97},{"s":"s4","b":"p","x":1,"y":9.97},
{"s":"s4","b":"u","x":0.1046,"y":11.51},{"s":"s4","b":"u","x":0.168,"y":11.11},{"s":"s4","b":"u","x":0.2364,"y":10.48},{"s":"s4","b":"u","x":0.2747,"y":10.16},{"s":"s4","b":"u","x":0.2873,"y":9.97},
{"s":"s4","b":"l","x":0.1046,"y":7.75},{"s":"s4","b":"l","x":0.1769,"y":8.18},{"s":"s4","b":"l","x":0.2364,"y":8.89},{"s":"s4","b":"l","x":0.279,"y":9.68},{"s":"s4","b":"l","x":0.2873,"y":9.97},
{"s":"s4","b":"uu","x":0.0493,"y":11.9},{"s":"s4","b":"uu","x":0.066,"y":11.75},{"s":"s4","b":"uu","x":0.1046,"y":11.51},{"s":"s4","b":"ul","x":0.0493,"y":11.5},{"s":"s4","b":"ul","x":0.0876,"y":11.47},{"s":"s4","b":"ul","x":0.1046,"y":11.51},
{"s":"s4","b":"lu","x":0.0493,"y":7.62},{"s":"s4","b":"lu","x":0.075,"y":7.62},{"s":"s4","b":"lu","x":0.1046,"y":7.75},{"s":"s4","b":"ll","x":0.0493,"y":7.0},{"s":"s4","b":"ll","x":0.075,"y":7.3},{"s":"s4","b":"ll","x":0.1046,"y":7.75},
{"s":"s2","b":"p","x":0.2873,"y":5.96},{"s":"s2","b":"p","x":1,"y":5.96},{"s":"s2","b":"u","x":0.0493,"y":6.43},{"s":"s2","b":"u","x":0.1037,"y":6.31},{"s":"s2","b":"u","x":0.2873,"y":5.96},{"s":"s2","b":"l","x":0.0493,"y":5.69},{"s":"s2","b":"l","x":0.1037,"y":5.72},{"s":"s2","b":"l","x":0.2873,"y":5.96}],
"d_t":[{"r":"big","t":"δ","x":0.47,"y":0.155},{"r":"sup","t":"ID","x":0.489,"y":0.8},{"r":"rbig","t":"x","x":-0.149,"y":11.1},{"r":"rsup","t":"ID","x":-0.181,"y":11.42},{"r":"rsup","t":"si","x":-0.1126,"y":11.42},{"r":"tip","t":"X: 0.2873","x":0.312,"y":7.78},{"r":"tip","t":"Y: 5.953","x":0.312,"y":6.85},
{"r":"lx","t":"x","x":0.33,"y":18.14},{"r":"lx","t":"x","x":0.5165,"y":18.14},{"r":"lx","t":"x","x":0.7045,"y":18.14},{"r":"lx","t":"x","x":0.892,"y":18.14},
{"r":"ls","t":"ID","x":0.357,"y":18.73},{"r":"ls","t":"ID","x":0.5435,"y":18.73},{"r":"ls","t":"ID","x":0.7315,"y":18.73},{"r":"ls","t":"ID","x":0.919,"y":18.73},{"r":"ls","t":"s1","x":0.357,"y":17.49},{"r":"ls","t":"s2","x":0.5435,"y":17.49},{"r":"ls","t":"s3","x":0.7315,"y":17.49},{"r":"ls","t":"s4","x":0.919,"y":17.49},
{"r":"tn","t":"(","x":0.3256,"y":-1.73},{"r":"tb","t":"d","x":0.3565,"y":-1.73},{"r":"tn","t":") ID","x":0.408,"y":-1.73}],
"d_p":[{"s":"s1","x":0.275,"y":18.19},{"s":"s2","x":0.4615,"y":18.19},{"s":"s3","x":0.65,"y":18.19},{"s":"s4","x":0.8365,"y":18.19}]
},
"concat":[
{"width":908,"height":638,"encoding":{"x":{"field":"x","type":"quantitative","title":null,"scale":{"domain":[0,1]},"axis":{"values":[0,0.2,0.4,0.6,0.8,1],"format":"~g"}},"y":{"field":"y","type":"quantitative","title":null,"scale":{"domain":[0,20]},"axis":{"values":[0,5,10,15,20]}}},
"layer":[
{"data":{"name":"a_b"},"transform":[{"filter":"datum.s=='s1'||datum.s=='w'"}],"mark":{"type":"area","orient":"vertical"},"encoding":{"y2":{"field":"y2"},"detail":{"field":"r"},"color":{"field":"s","type":"nominal","scale":{"domain":["s1","s2","s3","s4","w"],"range":["#000000","#ff0000","#0000ff","#ff00ff","#ffffff"]},"legend":null}}},
{"data":{"name":"a_r"},"mark":{"type":"rule","color":"#ffffff","strokeWidth":3},"encoding":{"y2":{"field":"y2"}}},
{"data":{"name":"a_l"},"transform":[{"filter":"datum.s=='s1'"}],"mark":{"type":"line","strokeWidth":1.5,"interpolate":"catmull-rom"},"encoding":{"detail":{"field":"b"},"color":{"field":"s","type":"nominal","legend":null}}},
{"data":{"name":"a_b"},"transform":[{"filter":"datum.s!='s1'&&datum.s!='w'"}],"mark":{"type":"area","orient":"vertical"},"encoding":{"y2":{"field":"y2"},"detail":{"field":"r"},"color":{"field":"s","type":"nominal","legend":null}}},
{"data":{"name":"a_l"},"transform":[{"filter":"datum.s!='s1'"}],"mark":{"type":"line","strokeWidth":1.5},"encoding":{"detail":{"field":"b"},"color":{"field":"s","type":"nominal","legend":null}}},
{"data":{"values":[{"x":0.349,"x2":0.5,"y":10.0,"y2":7.4}]},"mark":{"type":"rect","fill":"#fbfbea","stroke":"#ddddc8","strokeWidth":1.5},"encoding":{"x2":{"field":"x2"},"y2":{"field":"y2"}}},
{"data":{"values":[{"x":0.3334,"y":6.997}]},"mark":{"type":"point","shape":"square","filled":true,"size":430,"fill":"#000","stroke":"#fffde0","strokeWidth":2,"opacity":1}},
{"data":{"values":[{"x":0.156,"x2":0.975,"y":19.34,"y2":16.25}]},"mark":{"type":"rect","fill":"#fff","stroke":"#333","strokeWidth":2},"encoding":{"x2":{"field":"x2"},"y2":{"field":"y2"}}},
{"data":{"name":"a_p"},"mark":{"type":"point","shape":"circle","filled":true,"size":320,"opacity":1},"encoding":{"color":{"field":"s","type":"nominal","legend":null}}},
{"data":{"name":"a_t"},"transform":[{"filter":"datum.r=='big'"}],"mark":{"type":"text","style":"big"},"encoding":{"text":{"field":"t"}}},
{"data":{"name":"a_t"},"transform":[{"filter":"datum.r=='sup'"}],"mark":{"type":"text","style":"sup"},"encoding":{"text":{"field":"t"}}},
{"data":{"name":"a_t"},"transform":[{"filter":"datum.r=='rbig'"}],"mark":{"type":"text","style":"rbig"},"encoding":{"text":{"field":"t"}}},
{"data":{"name":"a_t"},"transform":[{"filter":"datum.r=='rsup'"}],"mark":{"type":"text","style":"rsup"},"encoding":{"text":{"field":"t"}}},
{"data":{"name":"a_t"},"transform":[{"filter":"datum.r=='tip'"}],"mark":{"type":"text","style":"tip"},"encoding":{"text":{"field":"t"}}},
{"data":{"name":"a_t"},"transform":[{"filter":"datum.r=='lx'"}],"mark":{"type":"text","style":"lx"},"encoding":{"text":{"field":"t"}}},
{"data":{"name":"a_t"},"transform":[{"filter":"datum.r=='ls'"}],"mark":{"type":"text","style":"ls"},"encoding":{"text":{"field":"t"}}},
{"data":{"name":"a_t"},"transform":[{"filter":"datum.r=='tn'"}],"mark":{"type":"text","style":"tn","fontSize":82},"encoding":{"text":{"field":"t"}}},
{"data":{"name":"a_t"},"transform":[{"filter":"datum.r=='tb'"}],"mark":{"type":"text","style":"tb","fontSize":82},"encoding":{"text":{"field":"t"}}}
]},
{"width":903,"height":635,"encoding":{"x":{"field":"x","type":"quantitative","title":null,"scale":{"domain":[0,1]},"axis":{"values":[0,0.2,0.4,0.6,0.8,1],"format":"~g"}},"y":{"field":"y","type":"quantitative","title":null,"scale":{"domain":[0,20]},"axis":{"values":[0,5,10,15,20]}}},
"layer":[
{"data":{"name":"b_b"},"transform":[{"filter":"datum.s=='s1'||datum.s=='w'"}],"mark":{"type":"area","orient":"vertical"},"encoding":{"y2":{"field":"y2"},"detail":{"field":"r"},"color":{"field":"s","type":"nominal","legend":null}}},
{"data":{"name":"b_l"},"transform":[{"filter":"datum.s=='s1'"}],"mark":{"type":"line","strokeWidth":3,"interpolate":"catmull-rom"},"encoding":{"detail":{"field":"b"},"color":{"field":"s","type":"nominal","legend":null}}},
{"data":{"name":"b_b"},"transform":[{"filter":"datum.s!='s1'&&datum.s!='w'"}],"mark":{"type":"area","orient":"vertical"},"encoding":{"y2":{"field":"y2"},"detail":{"field":"r"},"color":{"field":"s","type":"nominal","legend":null}}},
{"data":{"name":"b_d"},"mark":{"type":"point","shape":"circle","filled":true,"size":16,"opacity":1},"encoding":{"color":{"field":"s","type":"nominal","legend":null}}},
{"data":{"name":"b_l"},"transform":[{"filter":"datum.s!='s1'"}],"mark":{"type":"line","strokeWidth":3,"interpolate":"catmull-rom"},"encoding":{"detail":{"field":"b"},"color":{"field":"s","type":"nominal","legend":null}}},
{"data":{"values":[{"x":0.327,"x2":0.479,"y":9.05,"y2":6.34}]},"mark":{"type":"rect","fill":"#fbfbea","stroke":"#ddddc8","strokeWidth":1.5},"encoding":{"x2":{"field":"x2"},"y2":{"field":"y2"}}},
{"data":{"values":[{"x":0.3115,"y":5.929}]},"mark":{"type":"point","shape":"square","filled":true,"size":430,"fill":"#000","stroke":"#fffde0","strokeWidth":2,"opacity":1}},
{"data":{"values":[{"x":0.152,"x2":0.976,"y":19.34,"y2":16.28}]},"mark":{"type":"rect","fill":"#fff","stroke":"#333","strokeWidth":2},"encoding":{"x2":{"field":"x2"},"y2":{"field":"y2"}}},
{"data":{"name":"b_p"},"mark":{"type":"point","shape":"circle","filled":true,"size":320,"opacity":1},"encoding":{"color":{"field":"s","type":"nominal","legend":null}}},
{"data":{"name":"b_t"},"transform":[{"filter":"datum.r=='big'"}],"mark":{"type":"text","style":"big"},"encoding":{"text":{"field":"t"}}},
{"data":{"name":"b_t"},"transform":[{"filter":"datum.r=='sup'"}],"mark":{"type":"text","style":"sup"},"encoding":{"text":{"field":"t"}}},
{"data":{"name":"b_t"},"transform":[{"filter":"datum.r=='rbig'"}],"mark":{"type":"text","style":"rbig"},"encoding":{"text":{"field":"t"}}},
{"data":{"name":"b_t"},"transform":[{"filter":"datum.r=='rsup'"}],"mark":{"type":"text","style":"rsup"},"encoding":{"text":{"field":"t"}}},
{"data":{"name":"b_t"},"transform":[{"filter":"datum.r=='tip'"}],"mark":{"type":"text","style":"tip"},"encoding":{"text":{"field":"t"}}},
{"data":{"name":"b_t"},"transform":[{"filter":"datum.r=='lx'"}],"mark":{"type":"text","style":"lx"},"encoding":{"text":{"field":"t"}}},
{"data":{"name":"b_t"},"transform":[{"filter":"datum.r=='ls'"}],"mark":{"type":"text","style":"ls"},"encoding":{"text":{"field":"t"}}},
{"data":{"name":"b_t"},"transform":[{"filter":"datum.r=='tn'"}],"mark":{"type":"text","style":"tn","fontSize":88},"encoding":{"text":{"field":"t"}}},
{"data":{"name":"b_t"},"transform":[{"filter":"datum.r=='tb'"}],"mark":{"type":"text","style":"tb","fontSize":88},"encoding":{"text":{"field":"t"}}}
]},
{"width":908,"height":639,"encoding":{"x":{"field":"x","type":"quantitative","title":null,"scale":{"domain":[0,1]},"axis":{"values":[0,0.2,0.4,0.6,0.8,1],"format":"~g"}},"y":{"field":"y","type":"quantitative","title":null,"scale":{"domain":[0,20]},"axis":{"values":[0,5,10,15,20]}}},
"layer":[
{"data":{"name":"c_b"},"transform":[{"filter":"datum.s=='s1'||datum.s=='w'"}],"mark":{"type":"area","orient":"vertical"},"encoding":{"y2":{"field":"y2"},"detail":{"field":"r"},"color":{"field":"s","type":"nominal","legend":null}}},
{"data":{"name":"c_l"},"transform":[{"filter":"datum.s=='s1'"}],"mark":{"type":"line","strokeWidth":1.5,"interpolate":"catmull-rom"},"encoding":{"detail":{"field":"b"},"color":{"field":"s","type":"nominal","legend":null}}},
{"data":{"name":"c_b"},"transform":[{"filter":"datum.s!='s1'&&datum.s!='w'"}],"mark":{"type":"area","orient":"vertical"},"encoding":{"y2":{"field":"y2"},"detail":{"field":"r"},"color":{"field":"s","type":"nominal","legend":null}}},
{"data":{"name":"c_l"},"transform":[{"filter":"datum.s!='s1'"}],"mark":{"type":"line","strokeWidth":1.5},"encoding":{"detail":{"field":"b"},"color":{"field":"s","type":"nominal","legend":null}}},
{"data":{"values":[{"x":0.325,"x2":0.478,"y":9.89,"y2":7.29}]},"mark":{"type":"rect","fill":"#fbfbea","stroke":"#ddddc8","strokeWidth":1.5},"encoding":{"x2":{"field":"x2"},"y2":{"field":"y2"}}},
{"data":{"values":[{"x":0.3104,"y":6.876}]},"mark":{"type":"point","shape":"square","filled":true,"size":430,"fill":"#000","stroke":"#fffde0","strokeWidth":2,"opacity":1}},
{"data":{"values":[{"x":0.226,"x2":0.975,"y":19.34,"y2":16.24}]},"mark":{"type":"rect","fill":"#fff","stroke":"#333","strokeWidth":2},"encoding":{"x2":{"field":"x2"},"y2":{"field":"y2"}}},
{"data":{"name":"c_p"},"mark":{"type":"point","shape":"circle","filled":true,"size":320,"opacity":1},"encoding":{"color":{"field":"s","type":"nominal","legend":null}}},
{"data":{"name":"c_t"},"transform":[{"filter":"datum.r=='big'"}],"mark":{"type":"text","style":"big"},"encoding":{"text":{"field":"t"}}},
{"data":{"name":"c_t"},"transform":[{"filter":"datum.r=='sup'"}],"mark":{"type":"text","style":"sup"},"encoding":{"text":{"field":"t"}}},
{"data":{"name":"c_t"},"transform":[{"filter":"datum.r=='rbig'"}],"mark":{"type":"text","style":"rbig"},"encoding":{"text":{"field":"t"}}},
{"data":{"name":"c_t"},"transform":[{"filter":"datum.r=='rsup'"}],"mark":{"type":"text","style":"rsup"},"encoding":{"text":{"field":"t"}}},
{"data":{"name":"c_t"},"transform":[{"filter":"datum.r=='tip'"}],"mark":{"type":"text","style":"tip"},"encoding":{"text":{"field":"t"}}},
{"data":{"name":"c_t"},"transform":[{"filter":"datum.r=='lx'"}],"mark":{"type":"text","style":"lx"},"encoding":{"text":{"field":"t"}}},
{"data":{"name":"c_t"},"transform":[{"filter":"datum.r=='ls'"}],"mark":{"type":"text","style":"ls"},"encoding":{"text":{"field":"t"}}},
{"data":{"name":"c_t"},"transform":[{"filter":"datum.r=='tn'"}],"mark":{"type":"text","style":"tn","fontSize":80},"encoding":{"text":{"field":"t"}}},
{"data":{"name":"c_t"},"transform":[{"filter":"datum.r=='tb'"}],"mark":{"type":"text","style":"tb","fontSize":80},"encoding":{"text":{"field":"t"}}}
]},
{"width":906,"height":639,"encoding":{"x":{"field":"x","type":"quantitative","title":null,"scale":{"domain":[0,1]},"axis":{"values":[0,0.2,0.4,0.6,0.8,1],"format":"~g"}},"y":{"field":"y","type":"quantitative","title":null,"scale":{"domain":[3.5,20]},"axis":{"values":[5,10,15,20]}}},
"layer":[
{"data":{"name":"d_b"},"transform":[{"filter":"datum.s=='s1'||datum.s=='w'"}],"mark":{"type":"area","orient":"vertical"},"encoding":{"y2":{"field":"y2"},"detail":{"field":"r"},"color":{"field":"s","type":"nominal","legend":null}}},
{"data":{"name":"d_r"},"mark":{"type":"rule","color":"#ffffff","strokeWidth":2},"encoding":{"y2":{"field":"y2"}}},
{"data":{"name":"d_l"},"transform":[{"filter":"datum.s=='s1'"}],"mark":{"type":"line","strokeWidth":1.5,"interpolate":"catmull-rom"},"encoding":{"detail":{"field":"b"},"color":{"field":"s","type":"nominal","legend":null}}},
{"data":{"name":"d_b"},"transform":[{"filter":"datum.s!='s1'&&datum.s!='w'"}],"mark":{"type":"area","orient":"vertical"},"encoding":{"y2":{"field":"y2"},"detail":{"field":"r"},"color":{"field":"s","type":"nominal","legend":null}}},
{"data":{"name":"d_d"},"mark":{"type":"point","shape":"circle","filled":true,"size":16,"opacity":1},"encoding":{"color":{"field":"s","type":"nominal","legend":null}}},
{"data":{"name":"d_l"},"transform":[{"filter":"datum.s!='s1'"}],"mark":{"type":"line","strokeWidth":1.5,"interpolate":"catmull-rom"},"encoding":{"detail":{"field":"b"},"color":{"field":"s","type":"nominal","legend":null}}},
{"data":{"values":[{"x":0.302,"x2":0.454,"y":8.42,"y2":6.25}]},"mark":{"type":"rect","fill":"#fbfbea","stroke":"#ddddc8","strokeWidth":1.5},"encoding":{"x2":{"field":"x2"},"y2":{"field":"y2"}}},
{"data":{"values":[{"x":0.2873,"y":5.953}]},"mark":{"type":"point","shape":"square","filled":true,"size":430,"fill":"#000","stroke":"#fffde0","strokeWidth":2,"opacity":1}},
{"data":{"values":[{"x":0.219,"x2":0.975,"y":19.46,"y2":16.9}]},"mark":{"type":"rect","fill":"#fff","stroke":"#333","strokeWidth":2},"encoding":{"x2":{"field":"x2"},"y2":{"field":"y2"}}},
{"data":{"name":"d_p"},"mark":{"type":"point","shape":"circle","filled":true,"size":320,"opacity":1},"encoding":{"color":{"field":"s","type":"nominal","legend":null}}},
{"data":{"name":"d_t"},"transform":[{"filter":"datum.r=='big'"}],"mark":{"type":"text","style":"big"},"encoding":{"text":{"field":"t"}}},
{"data":{"name":"d_t"},"transform":[{"filter":"datum.r=='sup'"}],"mark":{"type":"text","style":"sup"},"encoding":{"text":{"field":"t"}}},
{"data":{"name":"d_t"},"transform":[{"filter":"datum.r=='rbig'"}],"mark":{"type":"text","style":"rbig"},"encoding":{"text":{"field":"t"}}},
{"data":{"name":"d_t"},"transform":[{"filter":"datum.r=='rsup'"}],"mark":{"type":"text","style":"rsup"},"encoding":{"text":{"field":"t"}}},
{"data":{"name":"d_t"},"transform":[{"filter":"datum.r=='tip'"}],"mark":{"type":"text","style":"tip"},"encoding":{"text":{"field":"t"}}},
{"data":{"name":"d_t"},"transform":[{"filter":"datum.r=='lx'"}],"mark":{"type":"text","style":"lx"},"encoding":{"text":{"field":"t"}}},
{"data":{"name":"d_t"},"transform":[{"filter":"datum.r=='ls'"}],"mark":{"type":"text","style":"ls"},"encoding":{"text":{"field":"t"}}},
{"data":{"name":"d_t"},"transform":[{"filter":"datum.r=='tn'"}],"mark":{"type":"text","style":"tn","fontSize":85},"encoding":{"text":{"field":"t"}}},
{"data":{"name":"d_t"},"transform":[{"filter":"datum.r=='tb'"}],"mark":{"type":"text","style":"tb","fontSize":85},"encoding":{"text":{"field":"t"}}}
]}
]}
